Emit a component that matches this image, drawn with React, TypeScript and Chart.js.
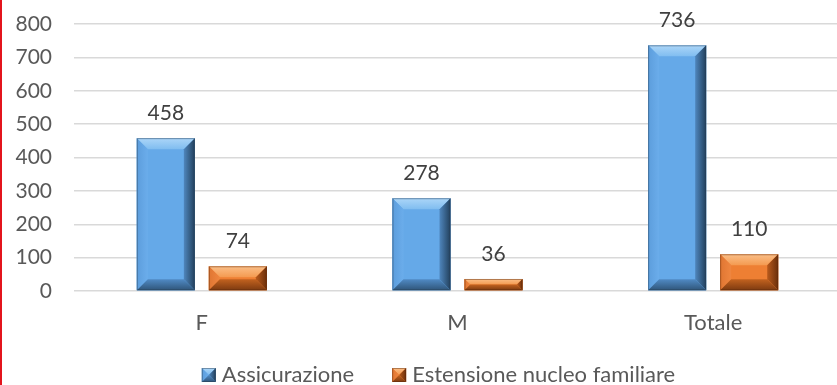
import React, { useEffect, useRef } from 'react';
import { Chart, registerables } from 'chart.js';

Chart.register(...registerables);

const categories = ['F', 'M', 'Totale'];
const seriesNames = ['Assicurazione', 'Estensione nucleo familiare'];
const assicurazione = [458, 278, 736];
const estensione = [74, 36, 110];
const yMin = 0;
const yMax = 800;
const yStep = 100;

type Pal = {
  face: string;
  top: [string, string];
  left: [string, string];
  right: [string, string];
  bottom: [string, string];
  edge: string;
};

const bluePal: Pal = {
  face: '#65a9e8',
  top: ['#acd6f8', '#80bdf0'],
  left: ['#5c9ddc', '#6badeb'],
  right: ['#22405c', '#4f86bd'],
  bottom: ['#2f5579', '#508ac4'],
  edge: 'rgba(40,60,80,0.45)',
};
const orangePal: Pal = {
  face: '#ee7f33',
  top: ['#fbbf88', '#f49a50'],
  left: ['#e07632', '#ef8640'],
  right: ['#6a2e0a', '#b85a1c'],
  bottom: ['#7d3a10', '#c2621f'],
  edge: 'rgba(90,40,10,0.45)',
};
const palettes = [bluePal, orangePal];

function poly(ctx: CanvasRenderingContext2D, pts: number[][], fill: CanvasGradient | string) {
  ctx.beginPath();
  ctx.moveTo(pts[0][0], pts[0][1]);
  for (let i = 1; i < pts.length; i++) ctx.lineTo(pts[i][0], pts[i][1]);
  ctx.closePath();
  ctx.fillStyle = fill;
  ctx.fill();
}

function drawBevel(ctx: CanvasRenderingContext2D, L: number, T: number, R: number, B: number, p: Pal, maxB: number) {
  const w = R - L;
  const h = B - T;
  if (w <= 0 || h <= 0) return;
  const b = Math.min(maxB, h / 2, w / 2);
  ctx.save();
  ctx.fillStyle = p.face;
  ctx.fillRect(L, T, w, h);
  let g = ctx.createLinearGradient(0, T, 0, T + b);
  g.addColorStop(0, p.top[0]);
  g.addColorStop(1, p.top[1]);
  poly(ctx, [[L, T], [R, T], [R - b, T + b], [L + b, T + b]], g);
  g = ctx.createLinearGradient(L, 0, L + b, 0);
  g.addColorStop(0, p.left[0]);
  g.addColorStop(1, p.left[1]);
  poly(ctx, [[L, T], [L + b, T + b], [L + b, B - b], [L, B]], g);
  g = ctx.createLinearGradient(R, 0, R - b, 0);
  g.addColorStop(0, p.right[0]);
  g.addColorStop(1, p.right[1]);
  poly(ctx, [[R, T], [R, B], [R - b, B - b], [R - b, T + b]], g);
  g = ctx.createLinearGradient(0, B, 0, B - b);
  g.addColorStop(0, p.bottom[0]);
  g.addColorStop(1, p.bottom[1]);
  poly(ctx, [[L, B], [R, B], [R - b, B - b], [L + b, B - b]], g);
  ctx.strokeStyle = p.edge;
  ctx.lineWidth = 1;
  ctx.strokeRect(L + 0.5, T + 0.5, w - 1, h - 1);
  ctx.restore();
}

const bevelPlugin = {
  id: 'bevelBars',
  afterDatasetsDraw(chart: any) {
    const ctx = chart.ctx as CanvasRenderingContext2D;
    chart.data.datasets.forEach((_ds: any, di: number) => {
      const meta = chart.getDatasetMeta(di);
      meta.data.forEach((bar: any) => {
        const { x, y, base, width } = bar.getProps(['x', 'y', 'base', 'width'], true);
        drawBevel(ctx, x - width / 2, y, x + width / 2, base, palettes[di], 11);
      });
    });
  },
};

const valueLabelPlugin = {
  id: 'valueLabels',
  afterDatasetsDraw(chart: any) {
    const ctx = chart.ctx as CanvasRenderingContext2D;
    ctx.save();
    ctx.font = '21px Lato';
    ctx.fillStyle = '#404040';
    ctx.textAlign = 'center';
    ctx.textBaseline = 'middle';
    chart.data.datasets.forEach((ds: any, di: number) => {
      const meta = chart.getDatasetMeta(di);
      meta.data.forEach((bar: any, i: number) => {
        const { x, y } = bar.getProps(['x', 'y'], true);
        ctx.fillText(String(ds.data[i]), x, y - 25);
      });
    });
    ctx.restore();
  },
};

// Legend drawn at the bottom, from the dataset labels
const legendPlugin = {
  id: 'bevelLegend',
  afterDraw(chart: any) {
    const ctx = chart.ctx as CanvasRenderingContext2D;
    const box = 14;
    const gapText = 6;
    const gapItem = 38;
    const centerX = 438.5;
    const baseline = 381.5;
    ctx.save();
    ctx.font = '22px Lato';
    const labels: string[] = chart.data.datasets.map((d: any) => d.label);
    const widths = labels.map((t) => ctx.measureText(t).width);
    const total = widths.reduce((a, w) => a + box + gapText + w, 0) + gapItem * (labels.length - 1);
    let x = centerX - total / 2;
    labels.forEach((t, i) => {
      drawBevel(ctx, x, 368, x + box, 368 + box, palettes[i], 7);
      ctx.fillStyle = '#595959';
      ctx.textAlign = 'left';
      ctx.textBaseline = 'alphabetic';
      ctx.fillText(t, x + box + gapText, baseline);
      x += box + gapText + widths[i] + gapItem;
    });
    ctx.restore();
  },
};

export default function App() {
  const ref = useRef<HTMLCanvasElement>(null);
  useEffect(() => {
    const numFont = { family: 'Lato', size: 21 };
    const catFont = { family: 'Lato', size: 22 };
    const chart = new Chart(ref.current!, {
      type: 'bar',
      data: {
        labels: categories,
        datasets: [
          {
            label: seriesNames[0],
            data: assicurazione,
            backgroundColor: bluePal.face,
            categoryPercentage: 0.5636,
            barPercentage: 0.8056,
          },
          {
            label: seriesNames[1],
            data: estensione,
            backgroundColor: orangePal.face,
            categoryPercentage: 0.5636,
            barPercentage: 0.8056,
          },
        ],
      },
      options: {
        responsive: false,
        animation: false,
        layout: { padding: { top: 24, left: 0, right: 0, bottom: 0 } },
        plugins: {
          tooltip: { enabled: false },
          legend: { display: false },
        },
        scales: {
          x: {
            grid: { display: false, drawTicks: false },
            border: { display: false },
            ticks: { padding: 19, font: catFont, color: '#595959' },
            afterFit: (s: any) => {
              s.height = 94;
              s.paddingLeft = 0;
              s.paddingRight = 0;
            },
          },
          y: {
            min: yMin,
            max: yMax,
            ticks: { stepSize: yStep, padding: 22, font: numFont, color: '#595959' },
            grid: { color: '#d9d9d9', lineWidth: 1.5, drawTicks: false },
            border: { display: false },
            afterFit: (s: any) => {
              s.width = 74;
              s.paddingTop = 0;
              s.paddingBottom = 0;
            },
          },
        },
      },
      plugins: [bevelPlugin, valueLabelPlugin, legendPlugin],
    } as any);
    return () => chart.destroy();
  }, []);

  return (
    <div
      style={{
        position: 'fixed',
        left: 0,
        top: 0,
        width: 837,
        height: 385,
        overflow: 'hidden',
        background: '#ffffff',
      }}
    >
      <canvas
        ref={ref}
        width={841}
        height={385}
        style={{ position: 'absolute', left: 0, top: 0, width: 841, height: 385 }}
      />
      <div style={{ position: 'absolute', left: 0, top: 0, width: 2, height: 385, background: '#e3141c' }} />
    </div>
  );
}
